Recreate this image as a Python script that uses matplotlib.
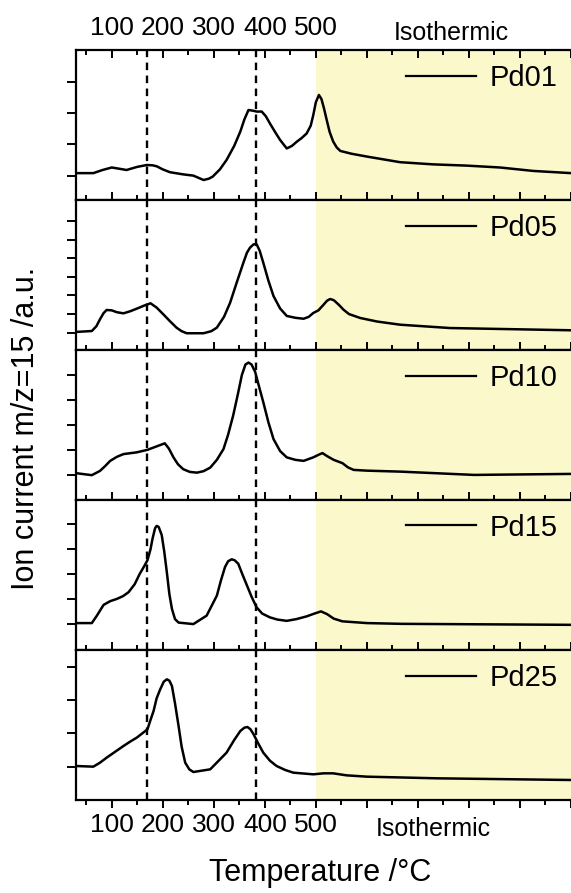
import numpy as np
import matplotlib
matplotlib.use("Agg")
import matplotlib.pyplot as plt

plt.rcParams['font.family'] = ['Liberation Sans', 'DejaVu Sans']

# TPD traces, m/z = 15 (arbitrary units, baseline at 0)
temp1 = [30, 64, 82, 100, 115, 129, 150, 169, 180, 188, 200, 214, 240, 260, 280, 290, 298,
         312, 325, 340, 352, 360, 368, 376, 384, 394, 402, 410, 420, 430, 443, 453, 463,
         472, 482, 490, 495, 500, 506, 511, 516, 521, 527, 534, 541, 548, 570, 600, 665,
         730, 796, 861, 926, 1000]
pd01 = [0.08, 0.08, 0.18, 0.26, 0.22, 0.18, 0.28, 0.34, 0.33, 0.30, 0.20, 0.11, 0.04, 0.00,
        -0.14, -0.10, -0.03, 0.20, 0.50, 0.95, 1.41, 1.80, 2.10, 2.08, 2.05, 2.05, 1.90,
        1.67, 1.40, 1.14, 0.87, 0.95, 1.09, 1.20, 1.35, 1.60, 1.94, 2.35, 2.58, 2.45, 2.15,
        1.80, 1.40, 1.09, 0.90, 0.79, 0.70, 0.61, 0.43, 0.36, 0.32, 0.26, 0.15, 0.08]

temp2 = [30, 61, 70, 77, 84, 90, 100, 110, 123, 136, 149, 163, 176, 188, 201, 214, 227, 237,
         247, 280, 295, 306, 320, 332, 345, 358, 365, 371, 378, 384, 390, 397, 407, 417, 430,
         443, 460, 476, 486, 495, 505, 515, 522, 528, 535, 545, 554, 565, 587, 620, 665, 763,
         861, 1000]
pd05 = [0.04, 0.09, 0.35, 0.72, 1.05, 1.22, 1.20, 1.10, 1.04, 1.15, 1.29, 1.45, 1.58, 1.35,
        0.99, 0.62, 0.27, 0.08, -0.03, -0.03, 0.08, 0.27, 0.85, 1.61, 2.70, 3.76, 4.30, 4.57,
        4.75, 4.75, 4.40, 3.76, 2.80, 1.97, 1.30, 0.90, 0.80, 0.75, 0.85, 1.06, 1.20, 1.50,
        1.72, 1.81, 1.75, 1.50, 1.24, 1.00, 0.79, 0.60, 0.43, 0.25, 0.20, 0.13]

temp3 = [30, 61, 77, 87, 97, 110, 123, 149, 170, 191, 204, 212, 221, 230, 240, 253, 267, 280,
         293, 306, 319, 328, 338, 347, 355, 362, 368, 374, 381, 389, 397, 407, 417, 430, 443,
         460, 476, 495, 505, 513, 522, 535, 552, 563, 574, 600, 667, 810, 1000]
pd10 = [0.07, -0.01, 0.16, 0.35, 0.56, 0.72, 0.83, 0.90, 1.00, 1.16, 1.26, 1.05, 0.70, 0.42,
        0.23, 0.12, 0.09, 0.15, 0.29, 0.60, 1.03, 1.60, 2.37, 3.20, 3.98, 4.40, 4.48, 4.40,
        4.11, 3.50, 2.90, 2.10, 1.43, 0.95, 0.70, 0.60, 0.56, 0.70, 0.80, 0.87, 0.75, 0.60,
        0.47, 0.30, 0.20, 0.17, 0.13, 0.00, 0.04]

temp4 = [30, 61, 71, 84, 97, 110, 122, 133, 145, 155, 163, 170, 176, 180, 185, 188, 192, 198,
         203, 208, 213, 218, 224, 231, 260, 286, 306, 314, 322, 328, 335, 341, 348, 356, 365,
         374, 384, 395, 410, 425, 443, 462, 482, 497, 510, 522, 535, 552, 600, 667, 1000]
pd15 = [0.04, 0.04, 0.34, 0.77, 0.92, 1.01, 1.12, 1.28, 1.60, 2.02, 2.30, 2.56, 3.00, 3.43,
        3.85, 3.94, 3.90, 3.57, 2.90, 2.08, 1.20, 0.61, 0.20, 0.06, 0.00, 0.34, 1.14, 1.75,
        2.29, 2.52, 2.60, 2.56, 2.42, 2.00, 1.55, 1.10, 0.67, 0.42, 0.27, 0.18, 0.13, 0.20,
        0.31, 0.42, 0.51, 0.40, 0.22, 0.11, 0.04, 0.01, -0.03]

temp5 = [30, 64, 77, 90, 107, 123, 136, 149, 160, 170, 176, 182, 188, 195, 202, 208, 213, 218,
         224, 231, 237, 244, 252, 260, 293, 325, 340, 352, 360, 366, 372, 378, 387, 397, 410,
         423, 440, 456, 495, 515, 534, 560, 600, 739, 1000]
pd25 = [0.02, 0.00, 0.12, 0.27, 0.45, 0.62, 0.75, 0.87, 1.00, 1.12, 1.40, 1.67, 2.05, 2.32,
        2.55, 2.62, 2.58, 2.42, 1.90, 1.22, 0.60, 0.12, -0.08, -0.16, -0.08, 0.42, 0.80, 1.07,
        1.17, 1.19, 1.12, 0.97, 0.70, 0.42, 0.18, 0.02, -0.10, -0.18, -0.23, -0.20, -0.20,
        -0.26, -0.30, -0.35, -0.40]

samples = ['Pd01', 'Pd05', 'Pd10', 'Pd15', 'Pd25']
temps = [temp1, temp2, temp3, temp4, temp5]
signals = [pd01, pd05, pd10, pd15, pd25]
ylims = [(-0.78, 4.02), (-0.93, 7.13), (-1.0, 4.98), (-1.04, 4.98), (-1.0, 3.5)]
ntick = [4, 7, 5, 5, 4]

ramp_ticks = [100, 200, 300, 400, 500]
ref_lines = [170, 383]
iso_start = 500
xmax = 1000

fig = plt.figure(figsize=(5.71, 8.93), dpi=100)
gs = fig.add_gridspec(5, 1, left=76/571, right=1.0, top=1-50/893, bottom=1-800/893, hspace=0)
axes = [fig.add_subplot(gs[i]) for i in range(5)]

for i, ax in enumerate(axes):
    ax.axvspan(iso_start, xmax, color='#fbf8cc', lw=0, zorder=0)
    for xv in ref_lines:
        ax.axvline(xv, color='k', lw=1.7, ls=(0, (3.2, 2.3)), zorder=1)
    ax.plot(temps[i], signals[i], color='k', lw=1.8, label=samples[i], zorder=2,
            solid_joinstyle='round')
    ax.set_xlim(30, xmax)
    ax.set_ylim(*ylims[i])
    ax.set_yticks(range(ntick[i]))
    ax.set_yticklabels([])
    ax.set_xticks(np.arange(100, xmax + 1, 100))
    ax.set_xticks(np.arange(50, xmax, 100), minor=True)
    ax.spines['right'].set_visible(False)
    for s in ax.spines.values():
        s.set_linewidth(1.6)
    ax.tick_params(axis='y', direction='out', length=6.5, width=1.4)
    ax.tick_params(axis='x', which='major', length=6, width=1.4)
    ax.tick_params(axis='x', which='minor', length=3.6, width=1.4)
    if i < 4:
        ax.tick_params(axis='x', which='both', direction='in', labelbottom=False)
    else:
        ax.tick_params(axis='x', which='both', direction='out', labelsize=19, pad=3)
    leg = ax.legend(loc='upper right', frameon=False, fontsize=21, handlelength=2.4,
                    handletextpad=0.45, borderaxespad=0.05, borderpad=0.42)
    for h in leg.get_lines():
        h.set_linewidth(1.6)

labels = [str(t) if t in ramp_ticks else '' for t in range(100, xmax + 1, 100)]

top = axes[0]
top.tick_params(axis='x', which='both', top=True, direction='in', labeltop=True, labelsize=19, pad=7)
top.set_xticklabels(labels)
top.text(765, 1.115, 'Isothermic', transform=top.get_xaxis_transform(), ha='center',
         va='center', fontsize=18)

bot = axes[-1]
bot.set_xticklabels(labels)
bot.text(730, -0.19, 'Isothermic', transform=bot.get_xaxis_transform(), ha='center',
         va='center', fontsize=18)

fig.text(320/571, 1-873/893, 'Temperature /\u00b0C', ha='center', va='center', fontsize=22)
fig.text(26/571, 1-428/893, 'Ion current m/z=15 /a.u.', ha='center', va='center',
         rotation=90, fontsize=22)

plt.savefig('out.png', dpi=100)
